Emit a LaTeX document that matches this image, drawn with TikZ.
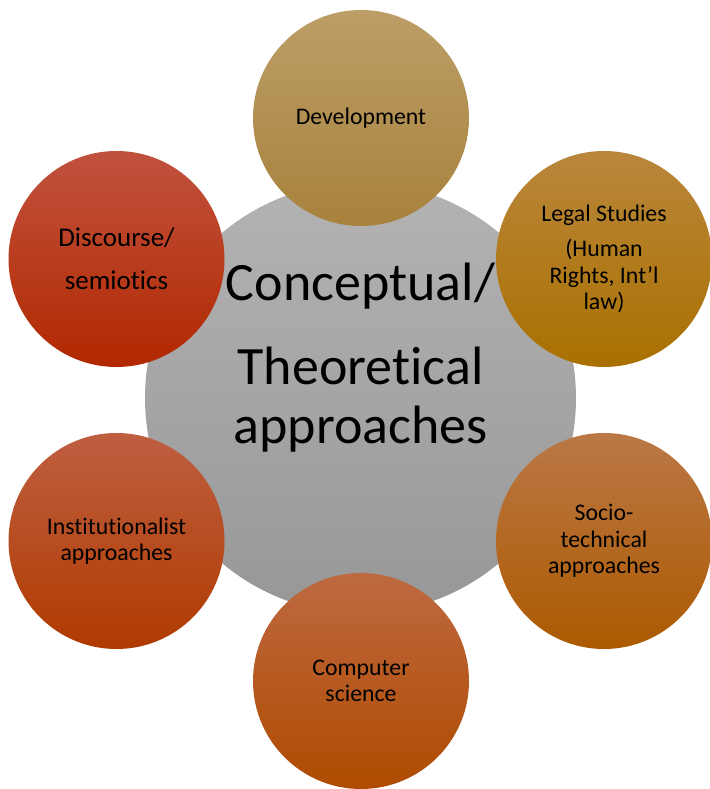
\documentclass[tikz,border=0pt]{standalone}
\usepackage{fontspec}
\setmainfont{Carlito}[RawFeature={-liga;-clig;-calt}]
\definecolor{hubtop}{HTML}{B3B3B3}
\definecolor{hubbot}{HTML}{979797}
\definecolor{devtop}{HTML}{BC9E67}
\definecolor{devmid}{HTML}{B28F50}
\definecolor{devbot}{HTML}{A8823C}
\definecolor{legtop}{HTML}{B9873C}
\definecolor{legmid}{HTML}{B07808}
\definecolor{legbot}{HTML}{AA7000}
\definecolor{soctop}{HTML}{BB7846}
\definecolor{socmid}{HTML}{B26410}
\definecolor{socbot}{HTML}{AC5A00}
\definecolor{comtop}{HTML}{BE6941}
\definecolor{commid}{HTML}{B65414}
\definecolor{combot}{HTML}{AF4B00}
\definecolor{insttop}{HTML}{BE5F41}
\definecolor{instmid}{HTML}{B7440F}
\definecolor{instbot}{HTML}{B03A00}
\definecolor{distop}{HTML}{C0523E}
\definecolor{dismid}{HTML}{B9300A}
\definecolor{disbot}{HTML}{B22800}
\begin{document}
\begin{tikzpicture}[x=1bp,y=1bp,
    small/.style={circle,minimum size=216bp,inner sep=0pt,align=center,
        font=\fontsize{23.8bp}{26.3bp}\selectfont}]
    \useasboundingbox (0,0) rectangle (710,789);
    \node[circle,minimum size=431bp,inner sep=0pt,top color=hubtop,bottom color=hubbot] (hub) at (360.5,391) {};
    \node[align=center,font=\fontsize{54bp}{59bp}\selectfont] (hubtext) at ([yshift=40.5bp]hub.center) {Conceptual/\\[25bp]Theoretical\\approaches};
    \node[small,top color=devtop,middle color=devmid,bottom color=devbot] (dev) at (361,671) {Development};
    \node[small,top color=legtop,middle color=legmid,bottom color=legbot] (legal) at (604,530) {Legal Studies\\[9bp](Human\\Rights, Int’l\\law)};
    \node[small,top color=soctop,middle color=socmid,bottom color=socbot] (socio) at (604,248) {Socio-\\technical\\approaches};
    \node[small,top color=comtop,middle color=commid,bottom color=combot] (comp) at (361,108) {Computer\\science};
    \node[small,top color=insttop,middle color=instmid,bottom color=instbot] (inst) at (116.5,248) {Institutionalist\\approaches};
    \node[small,top color=distop,middle color=dismid,bottom color=disbot,font=\fontsize{27bp}{32bp}\selectfont] (disc) at (116.5,530) {Discourse/\\[11bp]semiotics};
\end{tikzpicture}
\end{document}
